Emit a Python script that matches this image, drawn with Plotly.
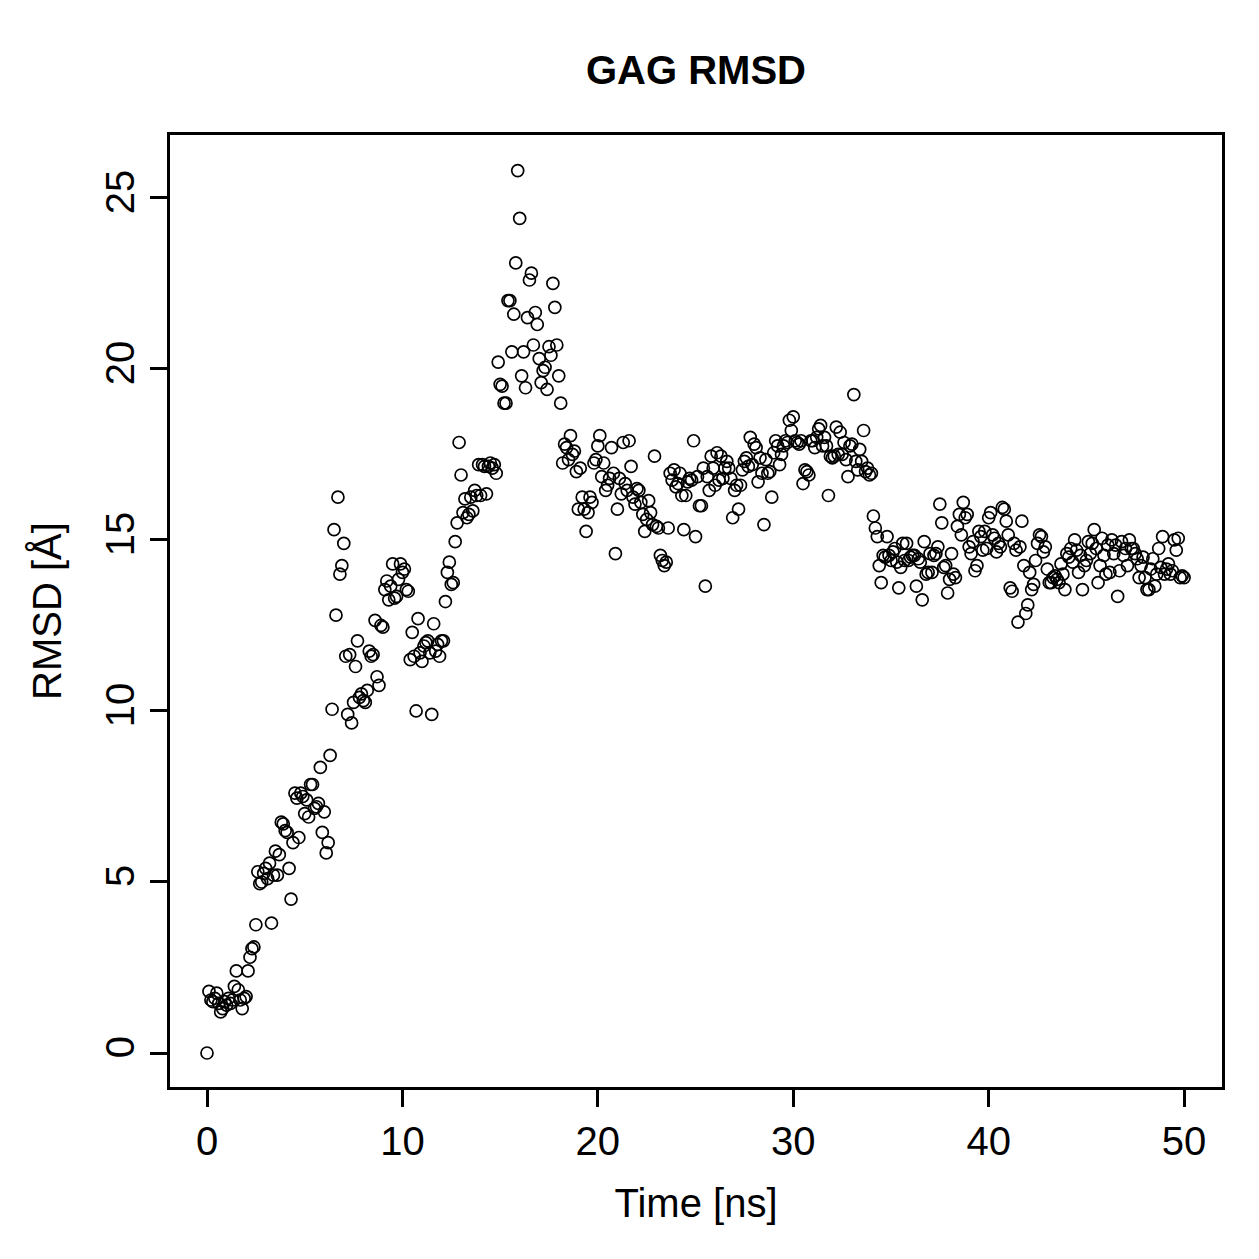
import numpy as np
import plotly.graph_objects as go

rmsd_00_02 = [0.0, 1.8, 1.55, 1.5, 1.6, 1.75, 1.45, 1.2, 1.3, 1.5, 1.4, 1.6, 1.45, 1.55, 1.95, 2.4, 1.85, 1.55, 1.3, 1.6, 1.65]
rmsd_02_04 = [2.4, 2.8, 3.05, 3.1, 3.75, 5.3, 4.95, 5.0, 5.25, 5.4, 5.1, 5.55, 3.8, 5.2, 5.9, 5.2, 5.8, 6.75, 6.7, 6.5]
rmsd_04_06 = [6.45, 5.4, 4.5, 6.15, 7.6, 7.45, 6.3, 7.6, 7.5, 7.0, 7.4, 6.9, 7.85, 7.85, 7.15, 7.2, 7.3, 8.35, 6.45, 7.05]
rmsd_06_08 = [5.85, 6.15, 8.7, 10.05, 15.3, 12.8, 16.25, 14.0, 14.25, 14.9, 11.6, 9.9, 11.65, 9.65, 10.25, 11.3, 12.05, 10.4, 10.5, 10.3]
rmsd_08_10 = [10.25, 10.6, 11.75, 11.6, 11.65, 12.65, 11.0, 10.75, 12.5, 12.45, 13.55, 13.8, 13.25, 13.65, 14.3, 13.3, 13.35, 13.85, 14.3, 14.05]
rmsd_10_12 = [14.15, 13.55, 13.5, 11.5, 12.3, 11.6, 10.0, 12.7, 11.7, 11.45, 11.9, 12.0, 12.05, 11.7, 9.9, 12.55, 11.75, 11.95, 11.6, 12.05]
rmsd_12_14 = [12.05, 13.2, 14.05, 14.35, 13.7, 13.75, 14.95, 15.5, 17.85, 16.9, 15.8, 16.2, 15.65, 15.75, 16.25, 15.85, 16.45, 16.3, 17.2, 16.3]
rmsd_14_16 = [17.2, 17.15, 16.35, 17.15, 17.25, 17.1, 17.2, 16.95, 20.2, 19.55, 19.5, 19.0, 19.0, 22.0, 22.0, 20.5, 21.6, 23.1, 25.8, 24.4]
rmsd_16_18 = [19.8, 20.5, 19.45, 21.5, 22.6, 22.8, 20.7, 21.65, 21.3, 20.3, 19.6, 19.95, 20.05, 19.4, 20.65, 20.4, 22.5, 21.8, 20.7, 19.8]
rmsd_18_20 = [19.0, 17.25, 17.8, 17.7, 17.35, 18.05, 17.5, 17.6, 17.0, 15.9, 17.1, 16.25, 15.9, 15.25, 15.8, 16.25, 16.1, 17.25, 17.35, 17.75]
rmsd_20_22 = [18.05, 16.85, 17.25, 16.45, 16.6, 16.8, 17.7, 16.95, 14.6, 15.9, 16.8, 16.35, 17.85, 16.65, 16.45, 17.9, 17.15, 16.25, 16.05, 16.5]
rmsd_22_24 = [16.45, 16.1, 15.75, 15.25, 15.6, 16.15, 15.8, 15.45, 17.45, 15.4, 15.35, 14.55, 14.4, 14.25, 14.35, 15.35, 16.95, 16.75, 17.05, 16.55]
rmsd_24_26 = [16.65, 16.95, 16.3, 15.3, 16.3, 16.7, 16.8, 16.75, 17.9, 15.1, 16.85, 16.0, 16.0, 17.1, 13.65, 16.85, 16.45, 17.45, 17.1, 16.6]
rmsd_26_28 = [17.55, 16.75, 17.45, 16.8, 17.1, 17.3, 17.1, 16.8, 15.65, 16.45, 16.6, 15.9, 16.6, 17.05, 17.3, 17.4, 17.15, 18.0, 17.2, 17.8]
rmsd_28_30 = [17.7, 16.7, 17.4, 16.95, 15.45, 17.35, 16.95, 17.0, 16.25, 17.55, 17.9, 17.75, 17.2, 17.5, 17.75, 17.9, 17.85, 18.5, 18.2, 18.6]
rmsd_30_32 = [17.9, 17.85, 17.8, 17.9, 16.65, 17.05, 17.0, 16.9, 17.9, 17.9, 17.7, 18.0, 18.25, 18.35, 17.75, 18.0, 17.75, 16.3, 17.45, 17.4]
rmsd_32_34 = [17.45, 18.3, 17.5, 18.15, 17.5, 17.85, 17.35, 16.85, 17.75, 17.8, 19.25, 17.3, 17.05, 17.65, 17.3, 18.2, 17.0, 17.1, 16.9, 16.95]
rmsd_34_36 = [15.7, 15.35, 15.1, 14.25, 13.75, 14.55, 14.5, 15.1, 14.55, 14.4, 14.65, 14.75, 14.35, 13.6, 14.2, 14.9, 14.4, 14.9, 14.4, 14.5]
rmsd_36_38 = [14.55, 14.55, 13.65, 14.45, 14.35, 13.25, 14.95, 14.0, 14.05, 14.6, 14.05, 14.55, 14.6, 14.8, 16.05, 15.5, 14.2, 14.25, 13.45, 13.85]
rmsd_38_40 = [14.6, 14.0, 13.9, 15.4, 15.75, 15.15, 16.1, 15.65, 15.75, 14.8, 14.6, 14.95, 14.1, 14.25, 15.25, 15.1, 14.7, 15.25, 14.75, 15.65]
rmsd_40_42 = [15.8, 15.15, 15.05, 14.65, 14.9, 14.8, 15.95, 15.9, 15.55, 15.15, 13.6, 13.5, 14.9, 14.7, 12.6, 14.8, 15.55, 14.25, 12.85, 13.1]
rmsd_42_44 = [14.05, 13.55, 13.7, 14.4, 14.9, 15.15, 15.1, 14.65, 14.8, 14.15, 13.75, 13.75, 13.9, 13.95, 13.85, 13.75, 14.3, 14.0, 13.55, 14.6]
rmsd_44_46 = [14.5, 14.75, 14.35, 15.0, 14.7, 14.05, 14.55, 13.55, 14.25, 14.4, 14.95, 14.6, 14.9, 15.3, 14.75, 13.75, 14.25, 15.05, 14.55, 14.0]
rmsd_46_48 = [14.85, 14.05, 15.0, 14.6, 14.85, 13.35, 14.1, 14.95, 14.55, 14.75, 14.25, 15.0, 14.75, 14.75, 14.6, 14.45, 13.9, 14.25, 14.5, 13.9]
rmsd_48_50 = [13.55, 13.55, 14.15, 14.45, 13.65, 14.0, 14.75, 14.2, 15.1, 14.0, 14.15, 14.3, 14.0, 14.1, 15.0, 14.7, 15.05, 13.9, 13.95, 13.9]

rmsd = (rmsd_00_02 + rmsd_02_04 + rmsd_04_06 + rmsd_06_08 + rmsd_08_10 + rmsd_10_12 +
        rmsd_12_14 + rmsd_14_16 + rmsd_16_18 + rmsd_18_20 + rmsd_20_22 + rmsd_22_24 +
        rmsd_24_26 + rmsd_26_28 + rmsd_28_30 + rmsd_30_32 + rmsd_32_34 + rmsd_34_36 +
        rmsd_36_38 + rmsd_38_40 + rmsd_40_42 + rmsd_42_44 + rmsd_44_46 + rmsd_46_48 +
        rmsd_48_50)
time_ns = np.round(np.arange(len(rmsd)) * 0.1, 1)

x_ticks = [0, 10, 20, 30, 40, 50]
y_ticks = [0, 5, 10, 15, 20, 25]

FONT = "Liberation Sans, Arial, Helvetica, sans-serif"

fig = go.Figure()
fig.add_trace(go.Scatter(
    x=time_ns, y=rmsd, mode="markers",
    marker=dict(symbol="circle-open", size=12, color="black", line=dict(width=1.7, color="black")),
    showlegend=False,
))

axis_common = dict(
    showgrid=False, zeroline=False, showline=True, mirror=True,
    linecolor="black", linewidth=3, ticks="outside", ticklen=17, tickwidth=3,
    tickcolor="black", tickfont=dict(family=FONT, size=40, color="black"),
)

fig.update_layout(
    width=1259, height=1259,
    margin=dict(l=170, r=37, t=135, b=172),
    paper_bgcolor="white", plot_bgcolor="white",
    title=dict(text="GAG RMSD", x=0.5528, xanchor="center", y=1 - 70 / 1259, yanchor="middle",
               font=dict(family=FONT, size=40, color="black", weight="bold")),
    xaxis=dict(range=[-1.894, 51.94], tickvals=x_ticks, ticktext=[str(v) for v in x_ticks],
               title=dict(text="Time [ns]", font=dict(family=FONT, size=40, color="black"), standoff=27),
               **axis_common),
    yaxis=dict(range=[-0.994, 26.84], tickvals=y_ticks, ticktext=[str(v) for v in y_ticks],
               tickangle=-90,
               title=dict(text="RMSD [Å]", font=dict(family=FONT, size=40, color="black"), standoff=25),
               **axis_common),
)

fig.write_html("out.html")
